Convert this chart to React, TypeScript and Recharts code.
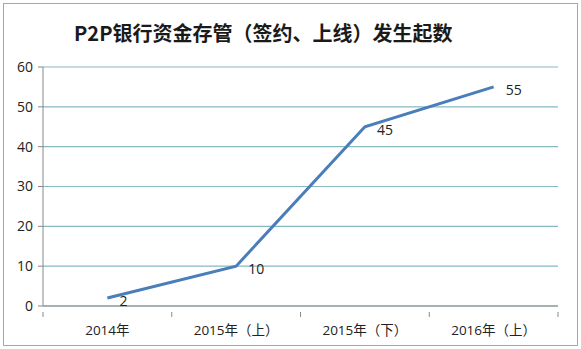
import React from 'react';
import { LineChart, Line, XAxis, YAxis, CartesianGrid, LabelList } from 'recharts';

const categories = ['2014年', '2015年（上）', '2015年（下）', '2016年（上）'];
const counts = [2, 10, 45, 55];
const yTicks = [0, 10, 20, 30, 40, 50, 60];

const data = categories.map((name, i) => ({ name, count: counts[i] }));

const W = 581;
const H = 349;
const margin = { top: 67, right: 23, bottom: 0, left: 0 };
const yAxisWidth = 43;
const xAxisHeight = 43;
const halfBand = (W - margin.right - yAxisWidth) / categories.length / 2;

const font = '"Open Sans", "Noto Sans CJK SC", sans-serif';

const CategoryTick = (props: any) => {
 const { x, y, payload, index } = props;
 const last = index === categories.length - 1;
 return (
 <g>
 <line x1={x - halfBand} x2={x - halfBand} y1={y - 2} y2={y + 3} stroke="#888" />
 {last && <line x1={x + halfBand} x2={x + halfBand} y1={y - 2} y2={y + 3} stroke="#888" />}
 <text x={x} y={y + 21} textAnchor="middle" fontSize={13.5} fill="#222" fontFamily={font}>
 {payload.value}
 </text>
 </g>
 );
};

const PointLabel = (props: any) => {
 const { x, y, value } = props;
 return (
 <text x={x + 12} y={y + 8} fontSize={14} fill="#222" fontFamily={font}>
 {value}
 </text>
 );
};

export default function App() {
 return (
 <div style={{ position: 'absolute', left: 0, top: 0, width: W, height: H, background: '#fff' }}>
 <div
 style={{
 position: 'absolute',
 left: 3,
 top: 3,
 width: W - 8,
 height: H - 8,
 border: '1px solid #a6a6a6',
 }}
 />
 <div
 style={{
 position: 'absolute',
 left: 74,
 top: 18,
 whiteSpace: 'nowrap',
 fontFamily: '"Noto Sans CJK SC", sans-serif',
 fontWeight: 700,
 fontSize: 20,
 color: '#1a1a1a',
 }}
 >
 P2P银行资金存管（签约、上线）发生起数
 </div>
 <div style={{ position: 'absolute', left: 0, top: 0 }}>
 <LineChart width={W} height={H} data={data} margin={margin}>
 <CartesianGrid vertical={false} stroke="#86b9c2" strokeWidth={1.2} />
 <XAxis
 dataKey="name"
 axisLine={{ stroke: '#888' }}
 tickLine={false}
 tick={<CategoryTick />}
 interval={0}
 height={xAxisHeight}
 padding={{ left: halfBand, right: halfBand }}
 />
 <YAxis
 domain={[0, 60]}
 ticks={yTicks}
 width={yAxisWidth}
 axisLine={{ stroke: '#888' }}
 tickLine={{ stroke: '#888' }}
 tickSize={5}
 tickMargin={5}
 tick={{ fontSize: 14, fill: '#222', fontFamily: font }}
 />
 <Line
 type="linear"
 dataKey="count"
 stroke="#4a7ebb"
 strokeWidth={3}
 dot={false}
 isAnimationActive={false}
 >
 <LabelList dataKey="count" content={<PointLabel />} />
 </Line>
 </LineChart>
 </div>
 </div>
 );
}
